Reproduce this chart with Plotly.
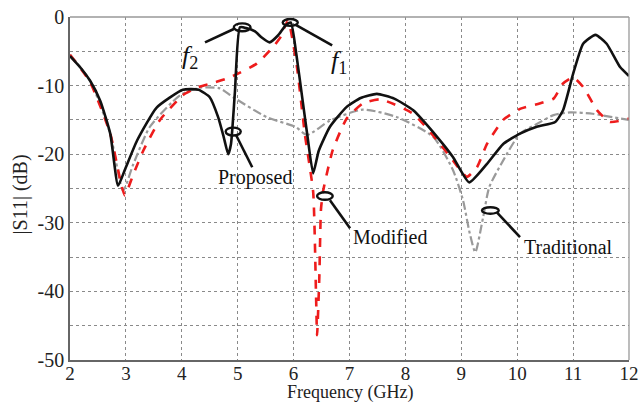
import plotly.graph_objects as go

# ---- data ----
freq_proposed = [2.0, 2.2, 2.36, 2.54, 2.72, 2.86, 2.98, 3.2, 3.55, 4.02, 4.3, 4.5, 4.65, 4.75,
                 4.83, 4.88, 4.95, 5.04, 5.15, 5.31, 5.43, 5.57, 5.72, 5.86, 5.95, 6.05, 6.15, 6.25,
                 6.35, 6.45, 6.65, 6.95, 7.2, 7.49, 7.8, 8.14, 8.57, 8.85, 9.14, 9.46, 9.75,
                 10.05, 10.35, 10.68, 10.82, 11.0, 11.18, 11.4, 11.6, 11.84, 12.0]
s11_proposed = [-5.7, -7.5, -9.3, -12.2, -17.0, -24.6, -22.3, -18.0, -13.2, -10.6, -10.6, -11.7,
                -14.6, -17.5, -20.0, -18.5, -11.0, -1.5, -1.6, -2.1, -3.0, -3.7, -2.7, -1.2, -0.8,
                -5.5, -11.5, -17.5, -22.8, -19.5, -16.0, -13.1, -11.8, -11.2, -11.9, -13.6, -17.5,
                -20.4, -24.1, -21.4, -18.5, -17.0, -16.0, -15.3, -13.6, -8.3, -3.9, -2.6, -3.9,
                -7.3, -8.6]

freq_modified = [2.0, 2.36, 2.72, 2.9, 2.98, 3.13, 3.31, 3.61, 4.02, 4.27, 4.6, 4.86, 5.34, 5.63,
                 5.76, 5.9, 6.06, 6.2, 6.35, 6.4, 6.42, 6.46, 6.49, 6.53, 6.7, 6.95, 7.24, 7.55,
                 8.14, 8.57, 8.85, 9.1, 9.28, 9.46, 9.75, 10.05, 10.4, 10.65, 10.82, 11.0, 11.18,
                 11.43, 11.66, 12.0]
s11_modified = [-5.5, -9.5, -17.0, -23.8, -26.0, -23.0, -19.5, -15.0, -11.4, -10.3, -9.5, -8.8, -6.8,
                -4.4, -3.0, -0.5, -7.3, -17.0, -25.5, -40.0, -46.4, -38.0, -28.0, -25.3, -19.4,
                -14.8, -12.6, -12.0, -14.1, -18.0, -20.9, -23.3, -21.9, -18.5, -15.0, -13.4, -12.6,
                -11.9, -9.7, -8.8, -10.2, -13.6, -15.3, -14.8]

freq_traditional = [2.0, 2.36, 2.72, 2.95, 3.13, 3.43, 3.97, 4.33, 4.68, 4.92, 5.52, 6.03, 6.24, 6.65,
                    7.24, 7.85, 8.5, 8.85, 9.03, 9.15, 9.25, 9.39, 9.5, 9.75, 10.05,
                    10.35, 10.65, 10.95, 11.35, 11.7, 12.0]
s11_traditional = [-5.5, -9.3, -17.0, -25.3, -21.5, -16.0, -11.4, -10.3, -10.4, -11.7, -14.6, -16.0,
                   -17.2, -15.1, -13.5, -14.6, -17.5, -22.3, -26.7, -31.5, -34.3, -29.2, -24.8,
                   -20.9, -17.0, -15.6, -14.3, -13.9, -14.1, -14.6, -15.0]

x_ticks = [2, 3, 4, 5, 6, 7, 8, 9, 10, 11, 12]
y_ticks = [0, -5, -10, -15, -20, -25, -30, -35, -40, -45, -50]
y_ticklabels = ["0", "", "-10", "", "-20", "", "-30", "", "-40", "", "-50"]

FONT = "Liberation Serif, Times New Roman, DejaVu Serif, serif"

fig = go.Figure()
fig.add_trace(go.Scatter(x=freq_traditional, y=s11_traditional, mode="lines", name="Traditional",
                         line=dict(color="#9a9a9a", width=2.2, dash="dashdot", shape="spline", smoothing=0.6)))
fig.add_trace(go.Scatter(x=freq_modified, y=s11_modified, mode="lines", name="Modified",
                         line=dict(color="#ee1c1c", width=2.6, dash="dash", shape="spline", smoothing=0.5)))
fig.add_trace(go.Scatter(x=freq_proposed, y=s11_proposed, mode="lines", name="Proposed",
                         line=dict(color="#111111", width=2.6, shape="spline", smoothing=0.5)))

shapes = []
# pointer ellipses
for cx, cy, w, h in [(5.08, -1.5, 0.30, 1.15), (5.94, -0.8, 0.27, 1.0), (4.92, -16.7, 0.27, 1.15),
                     (6.56, -26.1, 0.28, 1.1), (9.52, -28.2, 0.30, 0.95)]:
    shapes.append(dict(type="circle", xref="x", yref="y", x0=cx - w / 2, x1=cx + w / 2,
                       y0=cy - h / 2, y1=cy + h / 2, line=dict(color="#111", width=2.4)))
# pointer lines
for x0, y0, x1, y1 in [(4.415, -3.7, 4.95, -1.67), (6.03, -1.1, 6.69, -4.15), (4.97, -17.2, 5.26, -21.9),
                       (6.65, -26.7, 7.01, -30.8), (9.64, -28.5, 10.05, -32.1)]:
    shapes.append(dict(type="line", xref="x", yref="y", x0=x0, y0=y0, x1=x1, y1=y1,
                       line=dict(color="#111", width=2.6)))
# top and right frame lines
shapes.append(dict(type="line", xref="paper", yref="paper", x0=0, x1=1, y0=1, y1=1,
                   line=dict(color="#999", width=1.3)))
shapes.append(dict(type="line", xref="paper", yref="paper", x0=1, x1=1, y0=0, y1=1,
                   line=dict(color="#999", width=1.3)))

annotations = [
    dict(x=4.15, y=-5.9, text="<i>f</i><sub>2</sub>", showarrow=False, font=dict(family=FONT, size=26, color="#111")),
    dict(x=6.82, y=-6.6, text="<i>f</i><sub>1</sub>", showarrow=False, font=dict(family=FONT, size=26, color="#111")),
    dict(x=5.31, y=-23.4, text="Proposed", showarrow=False, font=dict(family=FONT, size=20, color="#111")),
    dict(x=7.72, y=-32.1, text="Modified", showarrow=False, font=dict(family=FONT, size=20, color="#111")),
    dict(x=10.91, y=-33.5, text="Traditional", showarrow=False, font=dict(family=FONT, size=20, color="#111")),
    # axis titles
    dict(xref="paper", yref="paper", x=0.5, y=0, yshift=-32, xanchor="center", yanchor="middle",
         text="Frequency (GHz)", showarrow=False, font=dict(family=FONT, size=18, color="#222")),
    dict(xref="paper", yref="paper", x=0, y=0.5, xshift=-50, yshift=-6, xanchor="center", yanchor="middle",
         textangle=-90, text="|S11| (dB)", showarrow=False, font=dict(family=FONT, size=20, color="#222")),
]

fig.update_layout(
    width=644, height=403,
    margin=dict(l=70, r=15, t=17, b=43, autoexpand=False),
    paper_bgcolor="white", plot_bgcolor="white",
    showlegend=False,
    font=dict(family=FONT, size=19, color="#222"),
    shapes=shapes, annotations=annotations,
    xaxis=dict(range=[2, 12], tickvals=x_ticks, showgrid=True, gridcolor="#8a8a8a", griddash="dot",
               gridwidth=1, showline=True, linecolor="#666", linewidth=1.5, zeroline=False,
               ticks="", tickfont=dict(family=FONT, size=19, color="#222"), automargin=False,
               ticklabeloverflow="allow", ticklabelstandoff=-5),
    yaxis=dict(range=[-50, 0], tickvals=y_ticks, ticktext=y_ticklabels, showgrid=True, gridcolor="#8a8a8a",
               griddash="dot", gridwidth=1, showline=True, linecolor="#666", linewidth=1.5, zeroline=False,
               ticks="", tickfont=dict(family=FONT, size=20, color="#222"), automargin=False,
               ticklabeloverflow="allow"),
)

# remove the page's default body margin so the figure sits at the window's top-left corner
fig.write_html("out.html", config={"displayModeBar": False},
               post_script="document.body.style.margin='0';document.body.style.overflow='hidden';")
